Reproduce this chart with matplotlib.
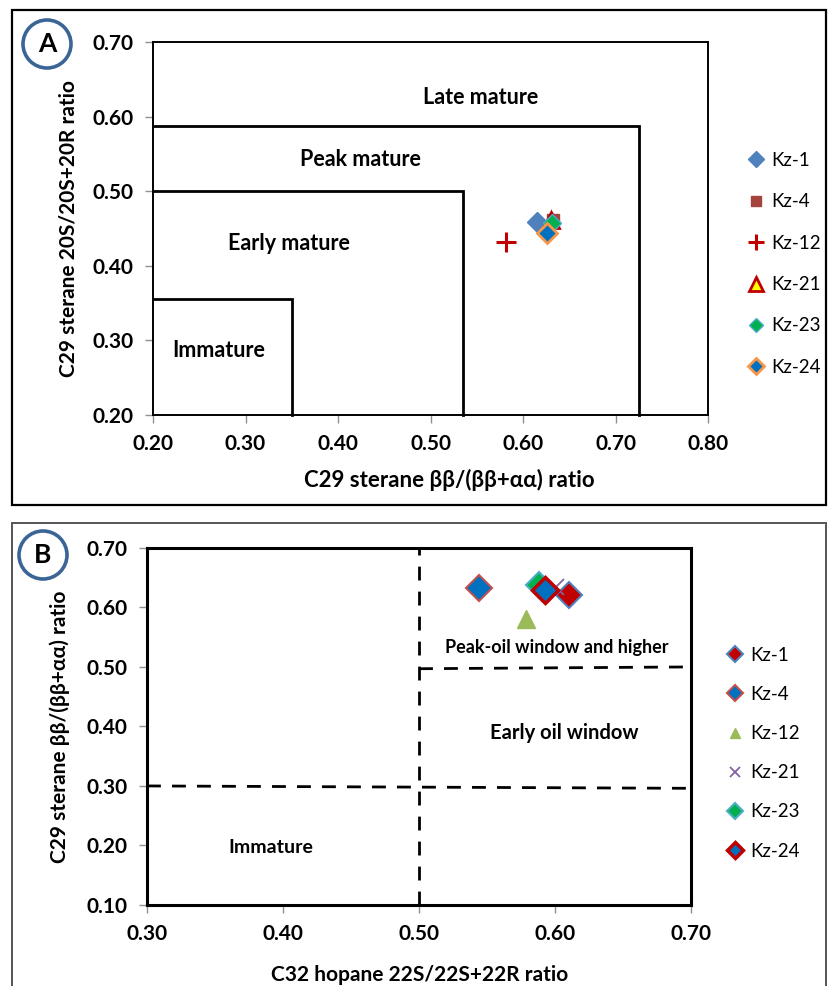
import numpy as np
import matplotlib
matplotlib.use('Agg')
import matplotlib.pyplot as plt
from matplotlib.patches import Rectangle, Circle

plt.rcParams['font.family'] = ['Lato', 'DejaVu Sans']

# ---------------- data ----------------
samples = ['Kz-1', 'Kz-4', 'Kz-12', 'Kz-21', 'Kz-23', 'Kz-24']

# panel A: C29 sterane bb/(bb+aa) vs 20S/(20S+20R)
a_bbaa = [0.615, 0.632, 0.582, 0.630, 0.631, 0.626]
a_20s = [0.459, 0.461, 0.432, 0.461, 0.457, 0.444]

# panel B: C32 hopane 22S/(22S+22R) vs C29 sterane bb/(bb+aa)
b_22s = [0.610, 0.544, 0.579, 0.601, 0.588, 0.593]
b_bbaa = [0.621, 0.633, 0.581, 0.634, 0.638, 0.629]

# maturity zone boundaries (panel A): (x limit, y limit)
a_zones = [(0.35, 0.355), (0.535, 0.50), (0.725, 0.588)]
a_zone_names = ['Immature', 'Early mature', 'Peak mature', 'Late mature']
a_zone_xy = [(0.271, 0.287), (0.347, 0.43), (0.424, 0.542), (0.554, 0.625)]

# panel B boundaries
b_vline = 0.50
b_hline_peak = 0.50
b_hline_imm = 0.298
b_zone_names = ['Immature', 'Early oil window', 'Peak-oil window and higher']
b_zone_xy = [(0.391, 0.197), (0.607, 0.389), (0.601, 0.532)]

a_ticks_x = [0.20, 0.30, 0.40, 0.50, 0.60, 0.70, 0.80]
a_ticks_y = [0.20, 0.30, 0.40, 0.50, 0.60, 0.70]
b_ticks_x = [0.30, 0.40, 0.50, 0.60, 0.70]
b_ticks_y = [0.10, 0.20, 0.30, 0.40, 0.50, 0.60, 0.70]

# marker styles
a_style = [
    dict(marker='D', ms=10, mfc='#4F81BD', mec='#4F81BD', mew=1),
    dict(marker='s', ms=9, mfc='#A5433F', mec='#A5433F', mew=1),
    dict(marker='+', ms=15, mfc='#C00000', mec='#C00000', mew=2.2),
    dict(marker='^', ms=12, mfc='#FFFF00', mec='#C00000', mew=2),
    dict(marker='D', ms=9, mfc='#00B050', mec='#4BACC6', mew=1),
    dict(marker='D', ms=10, mfc='#0070C0', mec='#F79646', mew=2),
]
b_style = [
    dict(marker='D', ms=13, mfc='#C00000', mec='#4F81BD', mew=1.5),
    dict(marker='D', ms=13, mfc='#0070C0', mec='#C0504D', mew=1.5),
    dict(marker='^', ms=13, mfc='#9BBB59', mec='#9BBB59', mew=1),
    dict(marker='x', ms=12, mfc='#8064A2', mec='#8064A2', mew=1.3),
    dict(marker='D', ms=13, mfc='#00B050', mec='#4BACC6', mew=1.5),
    dict(marker='D', ms=13, mfc='#0070C0', mec='#C00000', mew=2.5),
]

fig = plt.figure(figsize=(8.38, 9.86), dpi=100)

# outer panel frames
fig.patches.append(Rectangle((0.0143, 0.4878), 0.9714, 0.5021, transform=fig.transFigure,
                             fill=False, ec='black', lw=1.6, zorder=0))
fig.patches.append(Rectangle((0.0143, -0.02), 0.9714, 0.4896, transform=fig.transFigure,
                             fill=False, ec='#555555', lw=1.4, zorder=0))

# panel letters in circles (inches so they stay round)
for cx, cy, letter in [(47, 44, 'A'), (43, 555, 'B')]:
    fig.patches.append(Circle((cx / 100, (986 - cy) / 100), 0.24, transform=fig.dpi_scale_trans,
                              fill=False, ec='#3A6596', lw=2.6))
    fig.text(cx / 838, 1 - cy / 986, letter, ha='center', va='center',
             fontsize=19, fontweight='bold')


def style_axes(ax, xt, yt, lw):
    ax.set_xticks(xt)
    ax.set_yticks(yt)
    ax.set_xticklabels(['%.2f' % v for v in xt])
    ax.set_yticklabels(['%.2f' % v for v in yt])
    ax.tick_params(direction='out', length=6, width=1, color='#909090',
                   labelsize=15, pad=8)
    for lab in ax.get_xticklabels() + ax.get_yticklabels():
        lab.set_fontweight('bold')
    for s in ax.spines.values():
        s.set_linewidth(lw)
        s.set_color('black')


# ---------------- panel A ----------------
axA = fig.add_axes([0.1826, 0.5791, 0.6623, 0.3783])
axA.set_xlim(0.20, 0.80)
axA.set_ylim(0.20, 0.70)
style_axes(axA, a_ticks_x, a_ticks_y, 1.4)

for xz, yz in a_zones:
    axA.plot([0.20, xz, xz], [yz, yz, 0.20], color='black', lw=2.0, solid_joinstyle='miter',
             clip_on=False)
for name, (tx, ty) in zip(a_zone_names, a_zone_xy):
    axA.text(tx, ty, name, ha='center', va='center', fontsize=15.5, fontweight='bold')

handlesA = []
for i in range(len(samples)):
    h, = axA.plot([a_bbaa[i]], [a_20s[i]], ls='none', label=samples[i], **a_style[i])
    handlesA.append(h)

axA.set_ylabel('C29 sterane 20S/20S+20R ratio', fontsize=15, fontweight='bold', labelpad=10)
fig.text(449 / 838, 1 - 480 / 986, 'C29 sterane ββ/(ββ+αα) ratio', ha='center', va='center',
         fontsize=16, fontweight='bold')

legA = fig.legend(handles=handlesA, loc='upper left', bbox_to_anchor=(0.873, 0.863),
                  frameon=False, fontsize=13.5, labelspacing=1.3, handlelength=0.8,
                  handletextpad=0.4, markerscale=0.8)

# ---------------- panel B ----------------
axB = fig.add_axes([0.1754, 0.0822, 0.6492, 0.3621])
axB.set_xlim(0.30, 0.70)
axB.set_ylim(0.10, 0.70)
style_axes(axB, b_ticks_x, b_ticks_y, 2.2)

dash = (0, (5, 4))
axB.plot([b_vline, b_vline], [0.10, 0.70], color='black', lw=2, ls=dash)
axB.plot([b_vline, 0.70], [b_hline_peak - 0.003, b_hline_peak], color='black', lw=2, ls=dash)
axB.plot([0.30, 0.70], [b_hline_imm + 0.002, b_hline_imm - 0.002], color='black', lw=2, ls=dash)

b_sizes = [14, 14.5, 13]
for name, (tx, ty), fs in zip(b_zone_names, b_zone_xy, b_sizes):
    axB.text(tx, ty, name, ha='center', va='center', fontsize=fs, fontweight='bold')

handlesB = []
for i in range(len(samples)):
    h, = axB.plot([b_22s[i]], [b_bbaa[i]], ls='none', label=samples[i], **b_style[i])
    handlesB.append(h)

axB.set_ylabel('C29 sterane ββ/(ββ+αα) ratio', fontsize=15, fontweight='bold', labelpad=12)
fig.text(420 / 838, 1 - 975 / 986, 'C32 hopane 22S/22S+22R ratio', ha='center', va='center',
         fontsize=15, fontweight='bold')

legB = fig.legend(handles=handlesB, loc='upper left', bbox_to_anchor=(0.848, 0.361),
                  frameon=False, fontsize=13.5, labelspacing=1.18, handlelength=0.8,
                  handletextpad=0.4, markerscale=0.6)

fig.savefig('out.png', dpi=100)
